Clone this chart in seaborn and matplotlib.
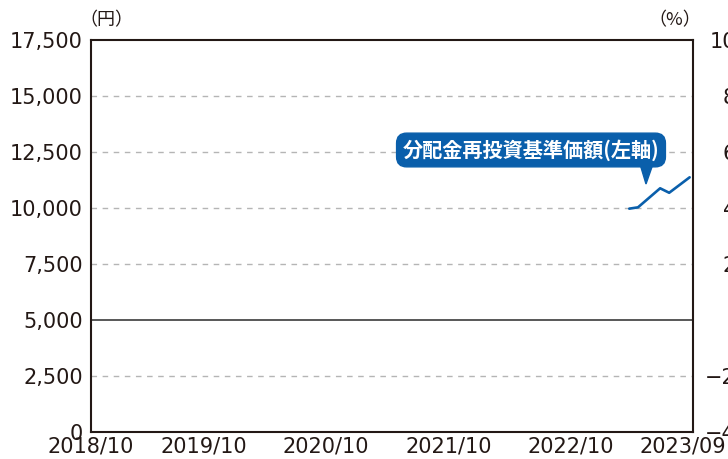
import matplotlib
matplotlib.use("Agg")
import matplotlib.pyplot as plt
from matplotlib.patches import Polygon
import seaborn as sns
import pandas as pd

# ---- data ----
nav_dates = ["2023-03-24", "2023-04-19", "2023-06-24", "2023-07-21", "2023-09-20"]
nav_values = [9970, 10030, 10880, 10680, 11370]

left_ticks = [0, 2500, 5000, 7500, 10000, 12500, 15000, 17500]
left_tick_labels = ["0", "2,500", "5,000", "7,500", "10,000", "12,500", "15,000", "17,500"]
right_ticks = [-4, -2, 2, 4, 6, 8, 10]
right_tick_labels = ["−4", "−2", "2", "4", "6", "8", "10"]
x_tick_dates = ["2018-10-31", "2019-10-01", "2020-10-01", "2021-10-01", "2022-10-01", "2023-09-01"]
x_tick_labels = ["2018/10", "2019/10", "2020/10", "2021/10", "2022/10", "2023/09"]
series_label = "分配金再投資基準価額(左軸)"

# ---- style ----
sns.set_theme(style="white")
plt.rcParams["font.family"] = ["Noto Sans CJK JP", "DejaVu Sans"]
TXT = "#231815"
BLUE = "#0a5fab"
NUMFONT = ["DejaVu Sans"]

df = pd.DataFrame({"date": pd.to_datetime(nav_dates), "nav": nav_values})

fig = plt.figure(figsize=(7.28, 4.59), dpi=100)
ax = fig.add_axes([91/728, 1-432/459, (693-91)/728, (432-40)/459])

sns.lineplot(data=df, x="date", y="nav", ax=ax, color=BLUE, linewidth=1.9)

ax.set_xlim(pd.Timestamp("2018-10-31"), pd.Timestamp("2023-09-30"))
ax.set_ylim(0, 17500)
ax.set_yticks(left_ticks)
ax.set_yticklabels(left_tick_labels, fontfamily=NUMFONT)
ax.set_xticks(pd.to_datetime(x_tick_dates))
ax.set_xticklabels(x_tick_labels, fontfamily=NUMFONT)
ax.set_xlabel("")
ax.set_ylabel("")
ax.tick_params(axis="y", length=0, pad=6, labelsize=15, colors=TXT)
ax.tick_params(axis="x", length=0, pad=3, labelsize=15, colors=TXT)

# grid lines
for v in left_ticks[1:-1]:
    if v == 5000:
        ax.axhline(v, color="#4a4a4a", linewidth=1.3, zorder=1)
    else:
        ax.axhline(v, color="#b5b5b5", linewidth=1.0, linestyle=(0, (4, 4)), zorder=1)

for s in ax.spines.values():
    s.set_color(TXT)
    s.set_linewidth(1.5)

ax2 = ax.twinx()
ax2.set_ylim(-4, 10)
ax2.set_yticks(right_ticks)
ax2.set_yticklabels(right_tick_labels, fontfamily=NUMFONT)
ax2.tick_params(axis="y", length=0, pad=31, labelsize=15, colors=TXT)
for lab in ax2.get_yticklabels():
    lab.set_horizontalalignment("right")
for s in ax2.spines.values():
    s.set_visible(False)

# unit labels
fig.text(106/728, 1-20/459, "（円）", ha="center", va="center", fontsize=13, color=TXT)
fig.text(675/728, 1-20/459, "（%）", ha="center", va="center", fontsize=13, color=TXT)

# callout
ax.text(531/728, 1-150/459, series_label, transform=fig.transFigure,
        ha="center", va="center", fontsize=14.5, color="white", fontweight="bold",
        bbox=dict(boxstyle="round,pad=0.3,rounding_size=0.5", fc=BLUE, ec=BLUE))
tri = Polygon([[640/728, 1-164/459], [653/728, 1-164/459], [646/728, 1-184/459]],
              closed=True, transform=fig.transFigure, fc=BLUE, ec=BLUE)
fig.patches.append(tri)

fig.savefig("out.png", dpi=100)
